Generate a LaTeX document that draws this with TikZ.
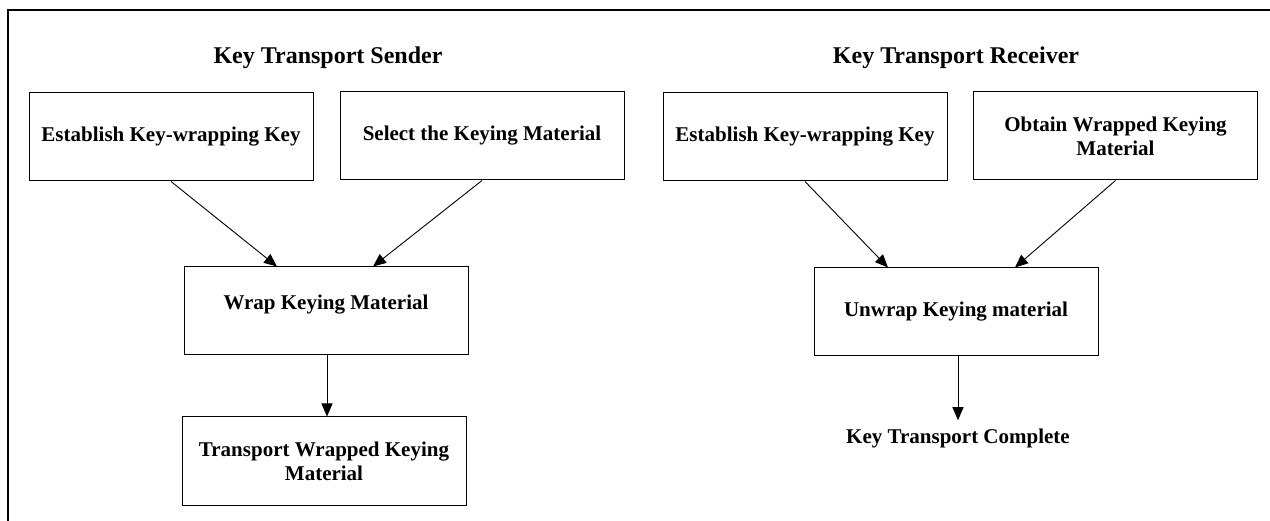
\documentclass[tikz,border=0pt]{standalone}
\usepackage{fontspec}
\setmainfont{Liberation Serif}
\usetikzlibrary{arrows.meta}

\begin{document}
\begin{tikzpicture}[x=1pt, y=-1pt, >={Triangle[length=13pt,width=11pt]},
        procbox/.style={draw, line width=1pt, minimum width=284pt, minimum height=88pt,
            align=center, inner sep=0pt, font=\fontsize{21}{24}\selectfont\bfseries},
        heading/.style={font=\fontsize{24}{28}\selectfont\bfseries},
        flow/.style={->, line width=0.9pt}]
        \clip (0,0) rectangle (1270,521);
        \draw[line width=2pt] (7.5,10) rectangle (1300,560);

        % sender side
        \node[heading] (sendTitle) at (328,58) {Key Transport Sender};
        \node[procbox] (sendKek) at (171,137) {Establish Key-wrapping Key};
        \node[procbox] (sendSel) at (482,136) {Select the Keying Material};
        \node[procbox, text depth=17pt] (sendWrap) at (326,311) {Wrap Keying Material};
        \node[procbox] (sendOut) at (324,461) {Transport Wrapped Keying\\Material};

        \draw[flow] (sendKek.south) -- ([xshift=-49pt]sendWrap.north);
        \draw[flow] (sendSel.south) -- ([xshift=47pt]sendWrap.north);
        \draw[flow] ([xshift=1pt]sendWrap.south) -- ([xshift=3pt]sendOut.north);

        % receiver side
        \node[heading] (recvTitle) at (956,58) {Key Transport Receiver};
        \node[procbox] (recvKek) at (805,137) {Establish Key-wrapping Key};
        \node[procbox] (recvGet) at (1115.5,136) {Obtain Wrapped Keying\\Material};
        \node[procbox] (recvUnwrap) at (956,312) {Unwrap Keying material};
        \node[font=\fontsize{21}{24}\selectfont\bfseries, inner xsep=0pt, inner ysep=8pt]
            (recvDone) at (958,438) {Key Transport Complete};

        \draw[flow] (recvKek.south) -- ([xshift=-68pt]recvUnwrap.north);
        \draw[flow] (recvGet.south) -- ([xshift=59pt]recvUnwrap.north);
        \draw[flow] ([xshift=2pt]recvUnwrap.south) -- (recvDone.north);

    \end{tikzpicture}
\end{document}
